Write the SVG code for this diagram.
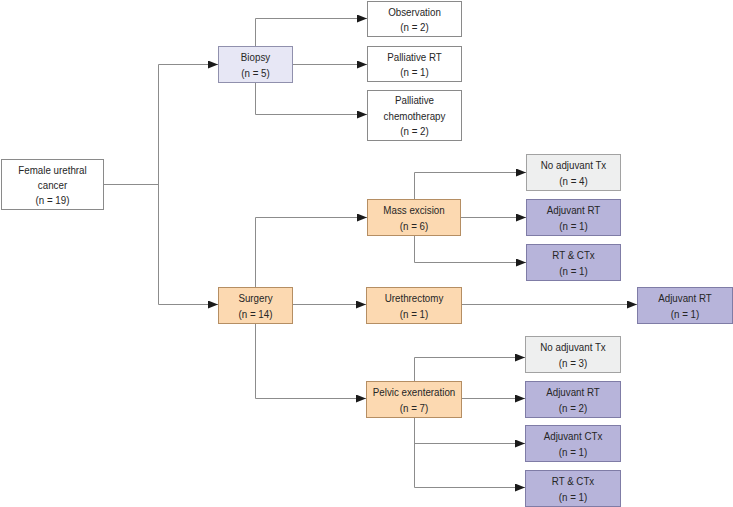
<svg xmlns="http://www.w3.org/2000/svg" width="733" height="507" viewBox="0 0 733 507">
<style>
text{font-family:"Liberation Sans",Arial,sans-serif;font-size:11.5px;fill:#262626;text-anchor:middle}
.w{fill:#ffffff;stroke:#8a8a8a;stroke-width:1}
.b{fill:#e7e7f5;stroke:#9090ad;stroke-width:1}
.o{fill:#fcd9b1;stroke:#b58e63;stroke-width:1}
.p{fill:#b7b4da;stroke:#7f7ca6;stroke-width:1}
.g{fill:#eeefef;stroke:#a2a2a2;stroke-width:1}
.c path{fill:none;stroke:#8c8c8c;stroke-width:1}
</style>
<defs>
<marker id="ah" viewBox="0 0 10 8" refX="10" refY="4" markerWidth="10" markerHeight="8" markerUnits="userSpaceOnUse" orient="auto">
<path d="M0,0 L10,4 L0,8 z" fill="#1a1a1a"/>
</marker>
</defs>
<rect width="733" height="507" fill="#ffffff"/>
<g class="c">
<path d="M103.5,184.5 H158.5"/>
<path d="M158.5,64.5 V304.5"/>
<path d="M158.5,64.5 H218" marker-end="url(#ah)"/>
<path d="M158.5,304.5 H218" marker-end="url(#ah)"/>
<path d="M255.5,18.5 V114.5"/>
<path d="M255.5,18.5 H367" marker-end="url(#ah)"/>
<path d="M292.5,64.5 H367" marker-end="url(#ah)"/>
<path d="M255.5,114.5 H367" marker-end="url(#ah)"/>
<path d="M255.5,217.5 V398.5"/>
<path d="M255.5,217.5 H367" marker-end="url(#ah)"/>
<path d="M292.5,304.5 H366" marker-end="url(#ah)"/>
<path d="M255.5,398.5 H366" marker-end="url(#ah)"/>
<path d="M414.5,172.5 V262.5"/>
<path d="M414.5,172.5 H526" marker-end="url(#ah)"/>
<path d="M460.5,217.5 H526" marker-end="url(#ah)"/>
<path d="M414.5,262.5 H526" marker-end="url(#ah)"/>
<path d="M461.5,304.5 H637" marker-end="url(#ah)"/>
<path d="M414.5,357.5 V487.5"/>
<path d="M414.5,357.5 H525" marker-end="url(#ah)"/>
<path d="M461.5,398.5 H525" marker-end="url(#ah)"/>
<path d="M414.5,443.5 H525" marker-end="url(#ah)"/>
<path d="M414.5,487.5 H525" marker-end="url(#ah)"/>
</g>
<g id="female">
<rect class="w" x="1.5" y="159.5" width="102" height="50"/>
<g transform="translate(52.5 0) scale(0.85 1)"><text x="0" y="174">Female urethral</text><text x="0" y="189">cancer</text><text x="0" y="204">(n = 19)</text></g>
</g>
<g id="biopsy">
<rect class="b" x="218.5" y="46.5" width="74" height="36"/>
<g transform="translate(255.5 0) scale(0.85 1)"><text x="0" y="61">Biopsy</text><text x="0" y="77">(n = 5)</text></g>
</g>
<g id="observation">
<rect class="w" x="367.5" y="1.5" width="94" height="35"/>
<g transform="translate(414.5 0) scale(0.85 1)"><text x="0" y="16">Observation</text><text x="0" y="31">(n = 2)</text></g>
</g>
<g id="palliative-rt">
<rect class="w" x="367.5" y="46.5" width="94" height="35"/>
<g transform="translate(414.5 0) scale(0.85 1)"><text x="0" y="61">Palliative RT</text><text x="0" y="76">(n = 1)</text></g>
</g>
<g id="palliative-chemo">
<rect class="w" x="367.5" y="90.5" width="94" height="50"/>
<g transform="translate(414.5 0) scale(0.85 1)"><text x="0" y="104">Palliative</text><text x="0" y="120">chemotherapy</text><text x="0" y="135">(n = 2)</text></g>
</g>
<g id="mass-excision">
<rect class="o" x="367.5" y="199.5" width="93" height="36"/>
<g transform="translate(414 0) scale(0.85 1)"><text x="0" y="214">Mass excision</text><text x="0" y="230">(n = 6)</text></g>
</g>
<g id="no-adj-1">
<rect class="g" x="526.5" y="154.5" width="94" height="36"/>
<g transform="translate(573.5 0) scale(0.85 1)"><text x="0" y="169">No adjuvant Tx</text><text x="0" y="185">(n = 4)</text></g>
</g>
<g id="adj-rt-1">
<rect class="p" x="526.5" y="199.5" width="94" height="36"/>
<g transform="translate(573.5 0) scale(0.85 1)"><text x="0" y="214">Adjuvant RT</text><text x="0" y="230">(n = 1)</text></g>
</g>
<g id="rt-ctx-1">
<rect class="p" x="526.5" y="244.5" width="94" height="36"/>
<g transform="translate(573.5 0) scale(0.85 1)"><text x="0" y="259">RT &amp; CTx</text><text x="0" y="275">(n = 1)</text></g>
</g>
<g id="surgery">
<rect class="o" x="218.5" y="287.5" width="74" height="36"/>
<g transform="translate(255.5 0) scale(0.85 1)"><text x="0" y="302">Surgery</text><text x="0" y="318">(n = 14)</text></g>
</g>
<g id="urethrectomy">
<rect class="o" x="366.5" y="287.5" width="95" height="36"/>
<g transform="translate(414 0) scale(0.85 1)"><text x="0" y="302">Urethrectomy</text><text x="0" y="318">(n = 1)</text></g>
</g>
<g id="adj-rt-u">
<rect class="p" x="637.5" y="287.5" width="95" height="36"/>
<g transform="translate(685 0) scale(0.85 1)"><text x="0" y="302">Adjuvant RT</text><text x="0" y="318">(n = 1)</text></g>
</g>
<g id="pelvic">
<rect class="o" x="366.5" y="381.5" width="95" height="36"/>
<g transform="translate(414 0) scale(0.85 1)"><text x="0" y="396">Pelvic exenteration</text><text x="0" y="412">(n = 7)</text></g>
</g>
<g id="no-adj-2">
<rect class="g" x="525.5" y="336.5" width="95" height="36"/>
<g transform="translate(573 0) scale(0.85 1)"><text x="0" y="351">No adjuvant Tx</text><text x="0" y="367">(n = 3)</text></g>
</g>
<g id="adj-rt-2">
<rect class="p" x="525.5" y="381.5" width="95" height="36"/>
<g transform="translate(573 0) scale(0.85 1)"><text x="0" y="396">Adjuvant RT</text><text x="0" y="412">(n = 2)</text></g>
</g>
<g id="adj-ctx">
<rect class="p" x="525.5" y="425.5" width="95" height="36"/>
<g transform="translate(573 0) scale(0.85 1)"><text x="0" y="440">Adjuvant CTx</text><text x="0" y="456">(n = 1)</text></g>
</g>
<g id="rt-ctx-2">
<rect class="p" x="525.5" y="470.5" width="95" height="36"/>
<g transform="translate(573 0) scale(0.85 1)"><text x="0" y="485">RT &amp; CTx</text><text x="0" y="501">(n = 1)</text></g>
</g>
</svg>
